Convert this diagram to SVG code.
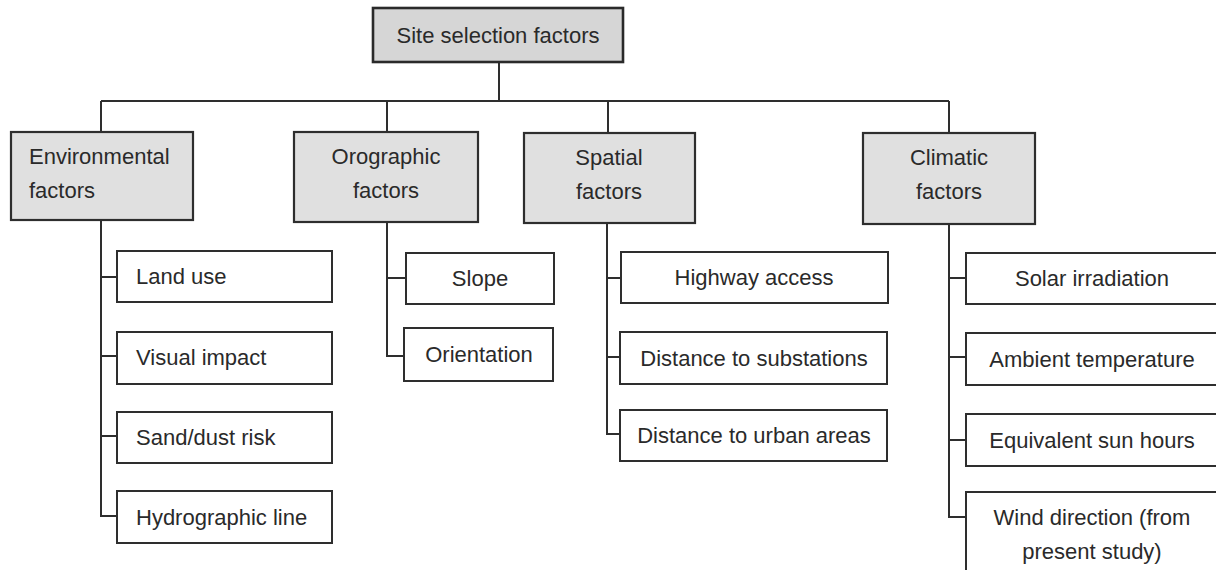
<svg xmlns="http://www.w3.org/2000/svg" width="1216" height="570" viewBox="0 0 1216 570">
<style>
text{font-family:"Liberation Sans",Arial,sans-serif;font-size:22px;fill:#2a2a2a}
.c{text-anchor:middle}
.box{fill:#fff;stroke:#2e2e2e;stroke-width:2}
.cat{fill:#e0e0e0;stroke:#2e2e2e;stroke-width:2.2}
.root{fill:#d6d6d6;stroke:#2a2a2a;stroke-width:2.6}
.ln{fill:none;stroke:#2e2e2e;stroke-width:2}
</style>
<rect width="1216" height="570" fill="#fff"/>
<g id="connectors">
<path class="ln" d="M499 62V101M101 101H949M101 101V132M387 101V132M608 101V133M949 101V133"/>
<path class="ln" d="M101 220V516H117M101 277H117M101 356H117M101 436H117"/>
<path class="ln" d="M387 222V356H404M387 278H406"/>
<path class="ln" d="M607 223V434H620M607 278H621M607 357H620"/>
<path class="ln" d="M949 224V517H966M949 278H966M949 357H966M949 440H966"/>
</g>
<g id="root"><rect class="root" x="373" y="8" width="250" height="54"/><text class="c" x="498" y="43">Site selection factors</text></g>
<g id="env"><rect class="cat" x="11" y="132" width="182" height="88"/><text x="29" y="164">Environmental</text><text x="29" y="198">factors</text></g>
<g id="oro"><rect class="cat" x="294" y="132" width="184" height="90"/><text class="c" x="386" y="164">Orographic</text><text class="c" x="386" y="198">factors</text></g>
<g id="spa"><rect class="cat" x="524" y="133" width="171" height="90"/><text class="c" x="609" y="165">Spatial</text><text class="c" x="609" y="199">factors</text></g>
<g id="cli"><rect class="cat" x="863" y="133" width="172" height="91"/><text class="c" x="949" y="165">Climatic</text><text class="c" x="949" y="199">factors</text></g>
<g id="landuse"><rect class="box" x="117" y="251" width="215" height="51"/><text x="136" y="284">Land use</text></g>
<g id="visual"><rect class="box" x="117" y="332" width="215" height="52"/><text x="136" y="365">Visual impact</text></g>
<g id="sand"><rect class="box" x="117" y="412" width="215" height="51"/><text x="136" y="445">Sand/dust risk</text></g>
<g id="hydro"><rect class="box" x="117" y="491" width="215" height="52"/><text x="136" y="525">Hydrographic line</text></g>
<g id="slope"><rect class="box" x="406" y="253" width="148" height="51"/><text class="c" x="480" y="286">Slope</text></g>
<g id="orient"><rect class="box" x="404" y="328" width="149" height="53"/><text class="c" x="479" y="362">Orientation</text></g>
<g id="highway"><rect class="box" x="621" y="252" width="267" height="51"/><text class="c" x="754" y="285">Highway access</text></g>
<g id="substations"><rect class="box" x="620" y="332" width="267" height="52"/><text class="c" x="754" y="366">Distance to substations</text></g>
<g id="urban"><rect class="box" x="620" y="410" width="267" height="51"/><text class="c" x="754" y="443">Distance to urban areas</text></g>
<g id="solar"><rect class="box" x="966" y="253" width="260" height="51"/><text class="c" x="1092" y="286">Solar irradiation</text></g>
<g id="ambient"><rect class="box" x="966" y="333" width="260" height="52"/><text class="c" x="1092" y="367">Ambient temperature</text></g>
<g id="sunhours"><rect class="box" x="966" y="414" width="260" height="52"/><text class="c" x="1092" y="448">Equivalent sun hours</text></g>
<g id="wind"><rect class="box" x="966" y="492" width="260" height="100"/><text class="c" x="1092" y="525">Wind direction (from</text><text class="c" x="1092" y="559">present study)</text></g>
</svg>
